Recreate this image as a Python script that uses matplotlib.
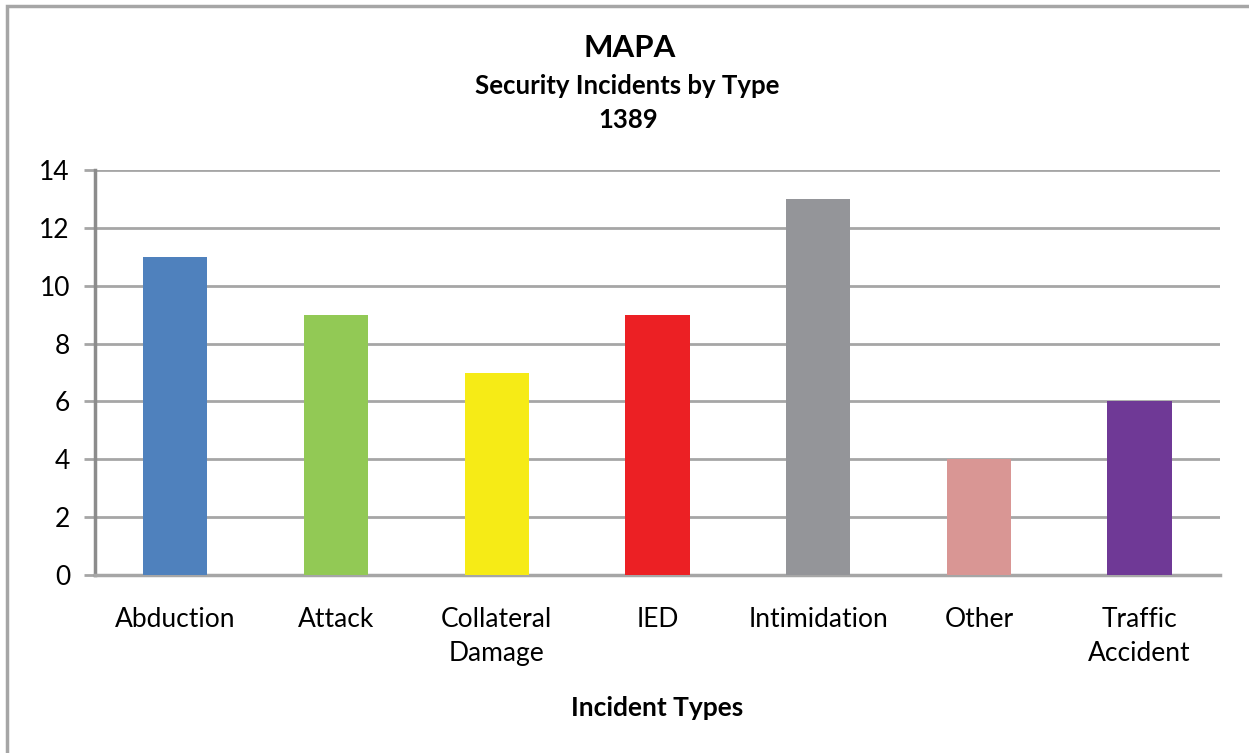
import matplotlib
matplotlib.use("Agg")
import matplotlib.pyplot as plt
from matplotlib.patches import Rectangle

categories = ["Abduction", "Attack", "Collateral\nDamage", "IED", "Intimidation", "Other", "Traffic\nAccident"]
values = [11, 9, 7, 9, 13, 4, 6]
colors = ["#4F81BD", "#92C955", "#F6EB16", "#EC2024", "#949599", "#D99694", "#6F3996"]
yticks = [0, 2, 4, 6, 8, 10, 12, 14]

plt.rcParams['font.family'] = ['Lato', 'DejaVu Sans']

W, H = 1249, 753
fig = plt.figure(figsize=(W/100, H/100), dpi=100)
ax = fig.add_axes([95/W, 1-575/H, (1220-95)/W, (575-170)/H])

x = list(range(len(categories)))
ax.bar(x, values, width=0.4, color=colors, zorder=3)
ax.set_xlim(-0.5, len(categories)-0.5)
ax.set_ylim(0, 14)
ax.set_yticks(yticks)
ax.set_xticks(x)
ax.set_xticklabels(categories, fontsize=19, linespacing=1.45)
ax.tick_params(axis='x', length=0, pad=23)
ax.tick_params(axis='y', length=8, width=2, color='#A6A6A6', labelsize=19, pad=10)
ax.yaxis.grid(True, color='#A6A6A6', linewidth=2, zorder=0)
for s in ['top', 'right']:
    ax.spines[s].set_visible(False)
ax.spines['left'].set_color('#8C8C8C')
ax.spines['left'].set_linewidth(2.5)
ax.spines['bottom'].set_color('#A6A6A6')
ax.spines['bottom'].set_linewidth(2.5)

ax.set_xlabel("Incident Types", fontsize=19, fontweight='bold', labelpad=22)

fig.text(630/W, 1-48/H, "MAPA", ha='center', va='center', fontsize=22.5, fontweight='bold')
fig.text(627/W, 1-86/H, "Security Incidents by Type", ha='center', va='center', fontsize=18.5, fontweight='bold')
fig.text(628/W, 1-120/H, "1389", ha='center', va='center', fontsize=18.5, fontweight='bold')

fig.patches.append(Rectangle((7/W, -0.1), 1.2, 1-6/H+0.1, transform=fig.transFigure,
                             fill=False, edgecolor='#A6A6A6', linewidth=2.5))

fig.savefig("out.png", dpi=100)
